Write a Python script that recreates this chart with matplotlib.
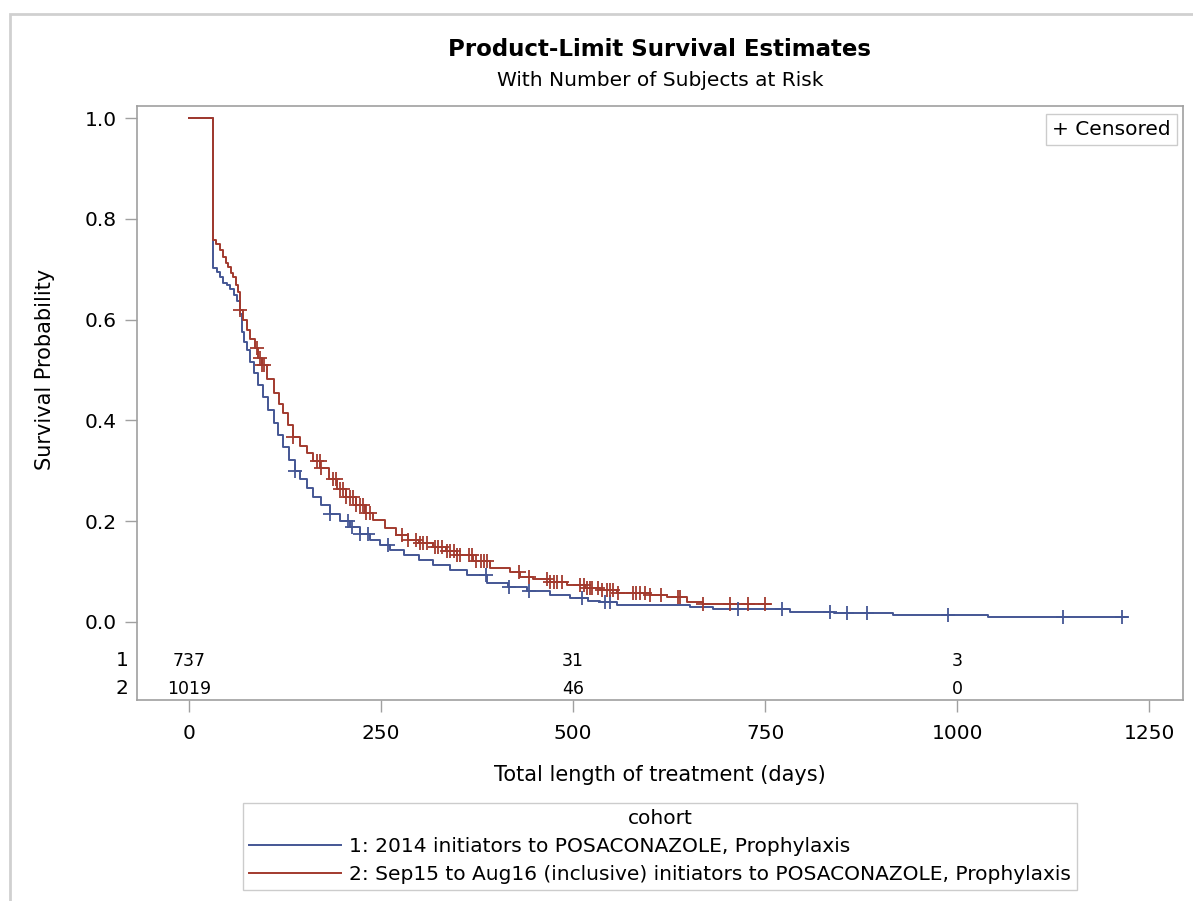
import numpy as np
import matplotlib
matplotlib.use("Agg")
import matplotlib.pyplot as plt
from matplotlib.lines import Line2D
from matplotlib.patches import Rectangle

plt.rcParams['font.family'] = ['DejaVu Sans']

# cohort 1: 2014 initiators (step points: time, survival)
t1 = [0, 31, 36, 40, 44, 49, 53, 58, 62, 66, 69, 72, 75, 79, 84, 90, 96, 103, 110,
      116, 123, 130, 138, 145, 153, 162, 172, 184, 197, 210, 223, 236, 249, 262,
      280, 300, 318, 340, 362, 388, 415, 440, 470, 496, 520, 535, 557, 652, 682,
      782, 840, 917, 1040, 1221]
s1 = [1.0, 0.702, 0.695, 0.685, 0.673, 0.668, 0.660, 0.648, 0.636, 0.612, 0.575,
      0.555, 0.540, 0.515, 0.495, 0.470, 0.446, 0.420, 0.395, 0.370, 0.347, 0.322,
      0.300, 0.283, 0.266, 0.248, 0.232, 0.215, 0.200, 0.188, 0.175, 0.163, 0.152,
      0.143, 0.133, 0.122, 0.113, 0.103, 0.093, 0.078, 0.069, 0.062, 0.054, 0.047,
      0.042, 0.040, 0.034, 0.030, 0.025, 0.020, 0.018, 0.014, 0.010, 0.010]
c1 = [138, 184, 207, 212, 223, 233, 259, 387, 416, 442, 511, 542, 548, 715, 772,
      835, 857, 882, 988, 1138, 1214]

# cohort 2: Sep15 to Aug16 initiators
t2 = [0, 31, 35, 40, 44, 48, 51, 55, 57, 61, 64, 66, 70, 75, 80, 86, 90, 95, 102,
      110, 117, 123, 129, 135, 144, 153, 162, 171, 182, 193, 205, 218, 229, 240,
      255, 270, 285, 300, 318, 335, 349, 370, 392, 418, 431, 448, 470, 492, 515,
      535, 557, 600, 622, 648, 669, 756]
s2 = [1.0, 0.758, 0.750, 0.738, 0.724, 0.712, 0.704, 0.692, 0.685, 0.668, 0.655,
      0.620, 0.600, 0.580, 0.562, 0.544, 0.524, 0.510, 0.482, 0.455, 0.433, 0.414,
      0.390, 0.368, 0.350, 0.335, 0.320, 0.305, 0.283, 0.263, 0.247, 0.232, 0.216,
      0.202, 0.186, 0.172, 0.163, 0.157, 0.149, 0.140, 0.133, 0.120, 0.107, 0.099,
      0.089, 0.086, 0.080, 0.073, 0.068, 0.063, 0.057, 0.053, 0.050, 0.040, 0.036,
      0.036]
c2 = [66, 88, 93, 95, 97, 135, 167, 170, 172, 188, 192, 197, 201, 205, 210, 214,
      218, 223, 227, 231, 236, 277, 285, 296, 301, 305, 310, 320, 324, 329, 336,
      340, 345, 349, 353, 364, 368, 373, 380, 384, 388, 429, 442, 466, 470, 475,
      479, 485, 509, 514, 518, 522, 524, 533, 537, 544, 548, 552, 559, 578, 582,
      587, 593, 600, 615, 637, 639, 669, 704, 728, 750]

risk_times = [0, 500, 1000]
risk1 = [737, 31, 3]
risk2 = [1019, 46, 0]

labels = ['1: 2014 initiators to POSACONAZOLE, Prophylaxis',
          '2: Sep15 to Aug16 (inclusive) initiators to POSACONAZOLE, Prophylaxis']
blue = '#445694'
red = '#A23A2E'
grey = '#a0a0a0'


def surv_at(t, s, x):
    idx = np.searchsorted(t, x, side='right') - 1
    return np.array(s)[idx]


fig = plt.figure(figsize=(11.93, 9.01), dpi=100)
ax = fig.add_axes([137 / 1193, 1 - 700 / 901, 1046 / 1193, 594 / 901])

ax.plot(t1, s1, drawstyle='steps-post', color=blue, lw=1.4)
ax.plot(t2, s2, drawstyle='steps-post', color=red, lw=1.4)
ax.plot(c1, surv_at(t1, s1, c1), ls='none', marker='+', ms=10, mew=1.3, color=blue)
ax.plot(c2, surv_at(t2, s2, c2), ls='none', marker='+', ms=10, mew=1.3, color=red)

ax.set_xlim(-67.7, 1294)
ax.set_ylim(-0.155, 1.024)
ax.set_xticks([0, 250, 500, 750, 1000, 1250])
ax.set_yticks([0.0, 0.2, 0.4, 0.6, 0.8, 1.0])
ax.set_yticklabels(['%.1f' % v for v in [0.0, 0.2, 0.4, 0.6, 0.8, 1.0]])
ax.tick_params(length=8.5, width=1, color=grey, labelsize=14.5, labelcolor='black')
ax.tick_params(axis='x', pad=9)
ax.tick_params(axis='y', pad=6)
for sp in ax.spines.values():
    sp.set_color(grey)
    sp.set_linewidth(1.2)

# number at risk table
for x, n1, n2 in zip(risk_times, risk1, risk2):
    ax.text(x, -0.077, str(n1), ha='center', va='center', fontsize=12.5)
    ax.text(x, -0.133, str(n2), ha='center', va='center', fontsize=12.5)
ax.text(-0.008, -0.077, '1', transform=ax.get_yaxis_transform(), ha='right',
        va='center', fontsize=14.5)
ax.text(-0.008, -0.133, '2', transform=ax.get_yaxis_transform(), ha='right',
        va='center', fontsize=14.5)

ax.text(0.9885, 0.976, '+ Censored', transform=ax.transAxes, ha='right', va='top',
        fontsize=14.5,
        bbox=dict(boxstyle='square,pad=0.3', fc='white', ec='#cccccc', lw=1))

fig.text(660 / 1193, 1 - 50 / 901, 'Product-Limit Survival Estimates', ha='center',
         va='center', fontsize=16.5, fontweight='bold')
fig.text(660 / 1193, 1 - 81 / 901, 'With Number of Subjects at Risk', ha='center',
         va='center', fontsize=14.5)
fig.text(660 / 1193, 1 - 775 / 901, 'Total length of treatment (days)', ha='center',
         va='center', fontsize=15)
fig.text(45 / 1193, 1 - 369 / 901, 'Survival Probability', ha='center', va='center',
         rotation=90, fontsize=15)

handles = [Line2D([], [], color=blue, lw=1.4), Line2D([], [], color=red, lw=1.4)]
leg = fig.legend(handles, labels, title='cohort', loc='upper center',
                 bbox_to_anchor=(660 / 1193, 1 - 803 / 901), fontsize=14.5,
                 title_fontsize=14.5, handlelength=4.6, handletextpad=0.4,
                 labelspacing=0.45, borderpad=0.3, borderaxespad=0,
                 fancybox=False, framealpha=1)
leg.get_frame().set_edgecolor('#cccccc')
leg.get_frame().set_linewidth(1)

fig.patches.append(Rectangle((10 / 1193, -0.05), 1.1, 1 - 14 / 901 + 0.05,
                             transform=fig.transFigure, fill=False,
                             ec='#d0d0d0', lw=2))

fig.savefig('out.png', dpi=100)
